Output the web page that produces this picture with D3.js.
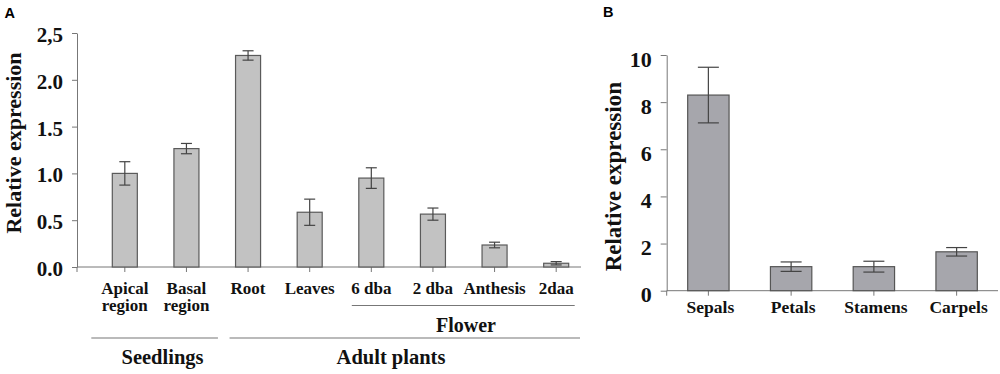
<!DOCTYPE html>
<html>
<head>
<meta charset="utf-8">
<script src="https://cdn.jsdelivr.net/npm/d3@7"></script>
<style>
  body { margin: 0; background: #fff; }
</style>
</head>
<body>
<div id="chart"></div>
<script>
// Panel A: tissues
const tissuesA = ["Apical region", "Basal region", "Root", "Leaves", "6 dba", "2 dba", "Anthesis", "2daa"];
const valuesA = [1.0, 1.265, 2.26, 0.585, 0.95, 0.565, 0.235, 0.04];
const errorsA = [0.125, 0.055, 0.05, 0.14, 0.11, 0.065, 0.03, 0.018];
const ticksA = [0, 0.5, 1.0, 1.5, 2.0, 2.5];
const tickLabelsA = ["0.0", "0.5", "1.0", "1.5", "2.0", "2,5"];

// Panel B: flower organs
const organsB = ["Sepals", "Petals", "Stamens", "Carpels"];
const valuesB = [8.3, 1.02, 1.02, 1.65];
const errorsB = [1.18, 0.2, 0.23, 0.18];
const ticksB = [0, 2, 4, 6, 8, 10];

const SERIF = "'Liberation Serif', 'Times New Roman', Times, serif";
const SANS = "'Liberation Sans', Arial, sans-serif";

const svg = d3.select("#chart").append("svg")
    .attr("width", 1000)
    .attr("height", 374);

// small helper so every label gets the bold serif look
function serif(sel, size) {
    return sel.style("font-family", SERIF)
        .style("font-weight", "bold")
        .style("font-size", size + "px")
        .attr("fill", "#111");
}

// ---------- Panel A ----------
let yA = d3.scaleLinear().domain([0, 2.5]).range([267, 33]);
let xA = d3.scaleBand().domain(tissuesA).range([94, 587])
    .paddingInner(0.594).paddingOuter(0.297);

svg.append("text")
    .attr("x", 4.5).attr("y", 17.5)
    .style("font-family", SANS).style("font-weight", "bold").style("font-size", "14.5px")
    .text("A");

// y axis
let gyA = svg.append("g")
    .attr("transform", "translate(77,0)")
    .call(d3.axisLeft(yA).tickValues(ticksA).tickSize(5).tickSizeOuter(0).tickPadding(9)
        .tickFormat((d, i) => tickLabelsA[i]));
gyA.select(".domain").attr("stroke", "#777");
gyA.selectAll(".tick line").attr("stroke", "#777");
serif(gyA.selectAll(".tick text"), 21).attr("dy", "0.4em");

// x axis
let gxA = svg.append("g")
    .attr("transform", "translate(0,267)")
    .call(d3.axisBottom(xA).tickSize(5).tickSizeOuter(0).tickFormat(""));
gxA.select(".domain").remove();
gxA.selectAll(".tick line").attr("stroke", "#777");
gxA.append("path")
    .attr("d", "M77,5V0H581")
    .attr("fill", "none")
    .attr("stroke", "#777");

// bars
svg.selectAll(".barA")
    .data(tissuesA)
    .enter()
    .append("rect")
    .attr("class", "barA")
    .attr("x", d => xA(d))
    .attr("width", xA.bandwidth())
    .attr("y", (d, i) => yA(valuesA[i]))
    .attr("height", (d, i) => yA(0) - yA(valuesA[i]))
    .attr("fill", "#c2c2c2")
    .attr("stroke", "#5a5a5a")
    .attr("stroke-width", 1.2);

// error bars
let errA = svg.selectAll(".errA")
    .data(tissuesA)
    .enter()
    .append("g")
    .attr("class", "errA")
    .attr("stroke", "#444")
    .attr("stroke-width", 1.2);
errA.append("line")
    .attr("x1", d => xA(d) + xA.bandwidth() / 2)
    .attr("x2", d => xA(d) + xA.bandwidth() / 2)
    .attr("y1", (d, i) => yA(valuesA[i] + errorsA[i]))
    .attr("y2", (d, i) => yA(valuesA[i] - errorsA[i]));
[1, -1].forEach(s => {
    errA.append("line")
        .attr("x1", d => xA(d) + xA.bandwidth() / 2 - 5.5)
        .attr("x2", d => xA(d) + xA.bandwidth() / 2 + 5.5)
        .attr("y1", (d, i) => yA(valuesA[i] + s * errorsA[i]))
        .attr("y2", (d, i) => yA(valuesA[i] + s * errorsA[i]));
});

// category labels (two-line ones split on the space)
tissuesA.forEach(d => {
    let cx = xA(d) + xA.bandwidth() / 2;
    let lines = d.indexOf("region") >= 0 ? d.split(" ") : [d];
    lines.forEach((t, k) => {
        serif(svg.append("text"), 17)
            .attr("x", cx)
            .attr("y", 294 + k * 17)
            .attr("text-anchor", "middle")
            .text(t);
    });
});

// group brackets
const bw = xA.bandwidth();
const groupLines = [
    {x1: xA("6 dba") - 7, x2: xA("2daa") + bw + 6, y: 305.5, label: "Flower", lx: 466, ly: 331.5, size: 20},
    {x1: xA("Apical region") - 21, x2: xA("Basal region") + bw + 19, y: 338, label: "Seedlings", lx: 162.5, ly: 363.5, size: 20.5},
    {x1: xA("Root") - 6, x2: 580, y: 338, label: "Adult plants", lx: 391, ly: 363.5, size: 20.5}
];
groupLines.forEach(g => {
    svg.append("line")
        .attr("x1", g.x1).attr("x2", g.x2)
        .attr("y1", g.y).attr("y2", g.y)
        .attr("stroke", "#777")
        .attr("stroke-width", 1.2);
    serif(svg.append("text"), g.size)
        .attr("x", g.lx)
        .attr("y", g.ly)
        .attr("text-anchor", "middle")
        .text(g.label);
});

// y title
serif(svg.append("text"), 22)
    .attr("transform", "translate(21,143) rotate(-90)")
    .attr("text-anchor", "middle")
    .text("Relative expression");

// ---------- Panel B ----------
let yB = d3.scaleLinear().domain([0, 10]).range([290.7, 55]);
let xB = d3.scaleBand().domain(organsB).range([667, 998])
    .paddingInner(0.5).paddingOuter(0.25);

svg.append("text")
    .attr("x", 603).attr("y", 16.5)
    .style("font-family", SANS).style("font-weight", "bold").style("font-size", "14.5px")
    .text("B");

let gyB = svg.append("g")
    .attr("transform", "translate(666.7,0)")
    .call(d3.axisLeft(yB).tickValues(ticksB).tickSize(6).tickSizeOuter(0).tickPadding(9)
        .tickFormat(d3.format("d")));
gyB.select(".domain").attr("stroke", "#777");
gyB.selectAll(".tick line").attr("stroke", "#777");
serif(gyB.selectAll(".tick text"), 22).attr("dy", "0.5em");

let gxB = svg.append("g")
    .attr("transform", "translate(0,290.7)")
    .call(d3.axisBottom(xB).tickSize(5).tickSizeOuter(0).tickFormat(""));
gxB.select(".domain").remove();
gxB.selectAll(".tick line").attr("stroke", "#777");
gxB.append("path")
    .attr("d", "M666.7,5V0H998")
    .attr("fill", "none")
    .attr("stroke", "#777");

svg.selectAll(".barB")
    .data(organsB)
    .enter()
    .append("rect")
    .attr("class", "barB")
    .attr("x", d => xB(d))
    .attr("width", xB.bandwidth())
    .attr("y", (d, i) => yB(valuesB[i]))
    .attr("height", (d, i) => yB(0) - yB(valuesB[i]))
    .attr("fill", "#a6a6ac")
    .attr("stroke", "#555")
    .attr("stroke-width", 1.2);

let errB = svg.selectAll(".errB")
    .data(organsB)
    .enter()
    .append("g")
    .attr("class", "errB")
    .attr("stroke", "#444")
    .attr("stroke-width", 1.2);
errB.append("line")
    .attr("x1", d => xB(d) + xB.bandwidth() / 2)
    .attr("x2", d => xB(d) + xB.bandwidth() / 2)
    .attr("y1", (d, i) => yB(valuesB[i] + errorsB[i]))
    .attr("y2", (d, i) => yB(valuesB[i] - errorsB[i]));
[1, -1].forEach(s => {
    errB.append("line")
        .attr("x1", d => xB(d) + xB.bandwidth() / 2 - 10.5)
        .attr("x2", d => xB(d) + xB.bandwidth() / 2 + 10.5)
        .attr("y1", (d, i) => yB(valuesB[i] + s * errorsB[i]))
        .attr("y2", (d, i) => yB(valuesB[i] + s * errorsB[i]));
});

serif(svg.selectAll(".labB")
    .data(organsB)
    .enter()
    .append("text")
    .attr("class", "labB"), 17.5)
    .attr("x", d => xB(d) + xB.bandwidth() / 2 + 2)
    .attr("y", 312.5)
    .attr("text-anchor", "middle")
    .text(d => d);

serif(svg.append("text"), 23)
    .attr("transform", "translate(621,176.7) rotate(-90)")
    .attr("text-anchor", "middle")
    .text("Relative expression");
</script>
</body>
</html>
